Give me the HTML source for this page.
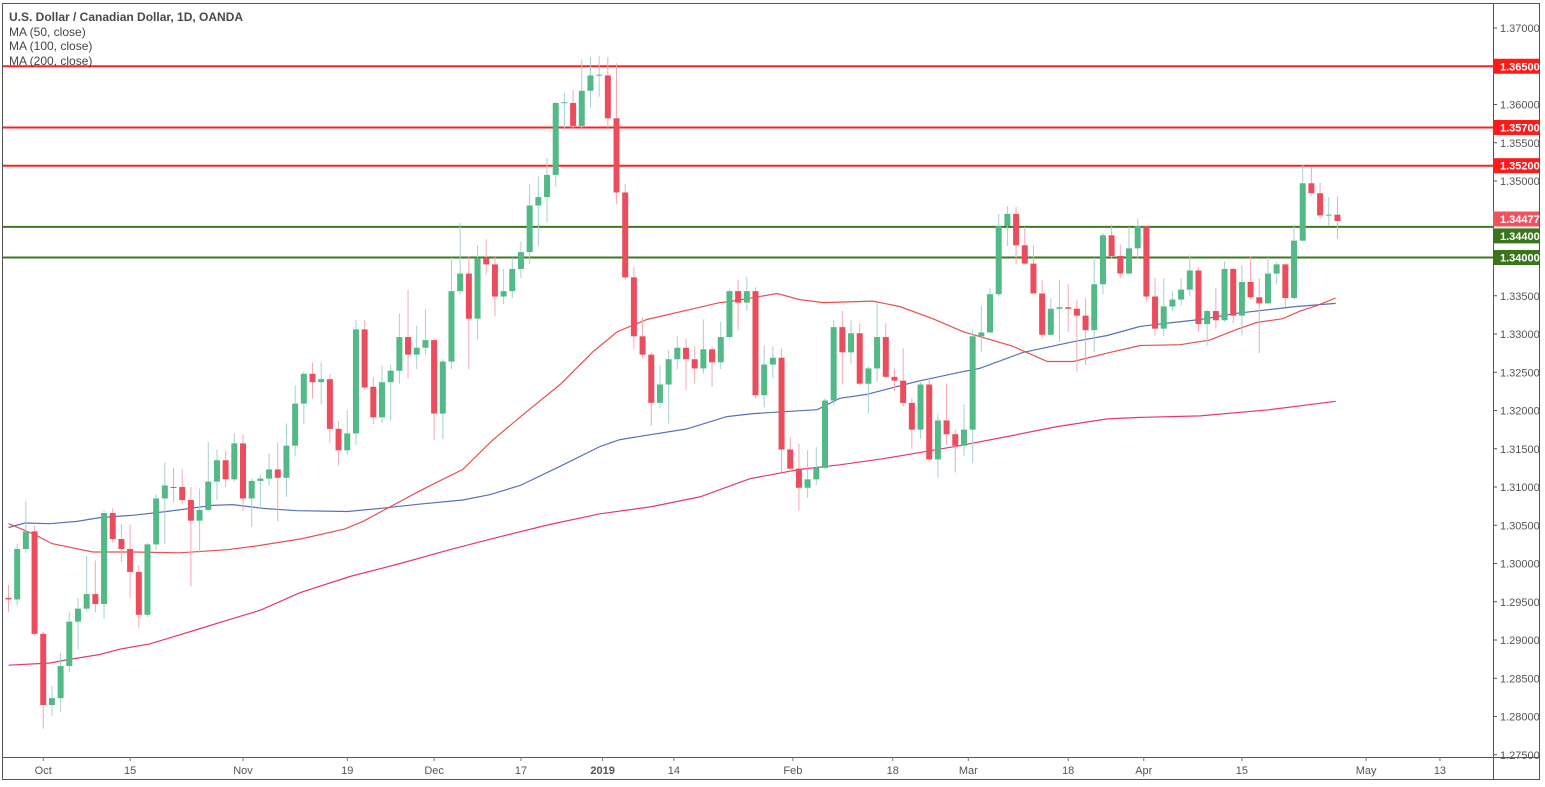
<!DOCTYPE html>
<html><head><meta charset="utf-8"><style>
html,body{margin:0;padding:0;background:#fff;}
svg{display:block;font-family:"Liberation Sans",sans-serif;}
</style></head><body>
<svg id="chart" width="1545" height="787" viewBox="0 0 1545 787" xmlns="http://www.w3.org/2000/svg">
<rect x="2.5" y="3.5" width="1537" height="776" fill="#fff" stroke="#555" stroke-width="1"/>
<g id="plot"></g>
<line x1="1493.5" y1="3" x2="1493.5" y2="779" stroke="#555"/>
<line x1="2" y1="757.5" x2="1540" y2="757.5" stroke="#555"/>
<g id="yaxis"></g>
<g id="xaxis"></g>
<g font-size="12" fill="#444">
<text x="9" y="21" font-weight="bold" fill="#4a4a4a">U.S. Dollar / Canadian Dollar, 1D, OANDA</text>
<text x="9" y="36">MA (50, close)</text>
<text x="9" y="50">MA (100, close)</text>
<text x="9" y="65">MA (200, close)</text>
</g>
</svg>
<script>
const opens=[1.2955,1.2953,1.3019,1.3042,1.2908,1.2815,1.2824,1.2866,1.2924,1.2941,1.2960,1.2947,1.3066,1.3032,1.3019,1.2989,1.2933,1.3025,1.3085,1.3100,1.3100,1.3083,1.3056,1.3070,1.3107,1.3135,1.3110,1.3157,1.3085,1.3108,1.3111,1.3123,1.3112,1.3154,1.3209,1.3248,1.3237,1.3241,1.3176,1.3148,1.3170,1.3306,1.3231,1.3191,1.3237,1.3252,1.3296,1.3273,1.3282,1.3292,1.3196,1.3264,1.3356,1.3379,1.3320,1.3399,1.3391,1.3349,1.3356,1.3385,1.3407,1.3468,1.3479,1.3508,1.3602,1.3602,1.3572,1.3618,1.3638,1.3638,1.3582,1.3485,1.3374,1.3297,1.3273,1.3210,1.3234,1.3267,1.3282,1.3267,1.3255,1.3280,1.3263,1.3296,1.3356,1.3341,1.3356,1.3220,1.3260,1.3269,1.3149,1.3124,1.3099,1.3110,1.3125,1.3213,1.3309,1.3276,1.3301,1.3235,1.3255,1.3296,1.3244,1.3239,1.3210,1.3175,1.3234,1.3136,1.3187,1.3169,1.3154,1.3175,1.3297,1.3302,1.3352,1.3441,1.3457,1.3416,1.3392,1.3353,1.3299,1.3333,1.3335,1.3333,1.3324,1.3305,1.3365,1.3429,1.3402,1.3379,1.3412,1.3441,1.3349,1.3307,1.3336,1.3345,1.3358,1.3383,1.3313,1.3330,1.3318,1.3385,1.3324,1.3368,1.3348,1.3340,1.3379,1.3391,1.3347,1.3422,1.3497,1.3484,1.3455,1.3456];
const highs=[1.2972,1.3026,1.3082,1.3049,1.2911,1.2840,1.2883,1.2937,1.2955,1.3010,1.3004,1.3069,1.3072,1.3052,1.3051,1.2998,1.3027,1.3090,1.3132,1.3125,1.3123,1.3100,1.3098,1.3159,1.3149,1.3148,1.3170,1.3169,1.3111,1.3116,1.3144,1.3158,1.3183,1.3233,1.3251,1.3263,1.3263,1.3248,1.3186,1.3201,1.3318,1.3318,1.3244,1.3259,1.3260,1.3327,1.3358,1.3311,1.3332,1.3294,1.3267,1.3400,1.3445,1.3402,1.3416,1.3424,1.3402,1.3385,1.3400,1.3421,1.3496,1.3506,1.3530,1.3604,1.3615,1.3619,1.3659,1.3662,1.3663,1.3662,1.3654,1.3496,1.3388,1.3322,1.3276,1.3259,1.3279,1.3297,1.3294,1.3284,1.3319,1.3284,1.3316,1.3358,1.3371,1.3375,1.3361,1.3285,1.3284,1.3281,1.3165,1.3157,1.3148,1.3152,1.3216,1.3318,1.3330,1.3318,1.3314,1.3258,1.3340,1.3314,1.3255,1.3281,1.3216,1.3237,1.3242,1.3196,1.3235,1.3175,1.3208,1.3306,1.3337,1.3360,1.3457,1.3467,1.3466,1.3440,1.3416,1.3371,1.3347,1.3371,1.3365,1.3345,1.3347,1.3400,1.3432,1.3443,1.3417,1.3440,1.3451,1.3442,1.3373,1.3373,1.3356,1.3373,1.3403,1.3387,1.3332,1.3360,1.3395,1.3387,1.3390,1.3402,1.3373,1.3400,1.3394,1.3392,1.3443,1.3521,1.3518,1.3498,1.3479,1.3480];
const lows=[1.2937,1.2945,1.3014,1.2905,1.2784,1.2801,1.2806,1.2858,1.2888,1.2937,1.2936,1.2928,1.3027,1.3002,1.2955,1.2916,1.2930,1.3018,1.3026,1.3080,1.3077,1.2970,1.3014,1.3068,1.3083,1.3100,1.3107,1.3069,1.3048,1.3072,1.3102,1.3055,1.3087,1.3140,1.3182,1.3216,1.3208,1.3157,1.3128,1.3142,1.3155,1.3227,1.3182,1.3184,1.3187,1.3235,1.3242,1.3254,1.3273,1.3161,1.3163,1.3254,1.3352,1.3254,1.3293,1.3378,1.3323,1.3339,1.3347,1.3373,1.3391,1.3415,1.3446,1.3492,1.3566,1.3568,1.3568,1.3595,1.3610,1.3570,1.3470,1.3371,1.3280,1.3268,1.3180,1.3203,1.3183,1.3254,1.3227,1.3235,1.3248,1.3231,1.3254,1.3293,1.3305,1.3330,1.3216,1.3204,1.3242,1.3119,1.3120,1.3069,1.3086,1.3103,1.3123,1.3207,1.3234,1.3261,1.3233,1.3196,1.3238,1.3242,1.3225,1.3205,1.3150,1.3163,1.3133,1.3112,1.3155,1.3119,1.3140,1.3131,1.3276,1.3301,1.3349,1.3415,1.3391,1.3391,1.3352,1.3294,1.3297,1.3290,1.3303,1.3251,1.3259,1.3276,1.3352,1.3399,1.3373,1.3378,1.3398,1.3343,1.3298,1.3297,1.3330,1.3337,1.3350,1.3303,1.3285,1.3307,1.3316,1.3314,1.3298,1.3345,1.3275,1.3339,1.3366,1.3335,1.3345,1.3421,1.3481,1.3451,1.3441,1.3425];
const closes=[1.2953,1.3019,1.3042,1.2908,1.2815,1.2824,1.2866,1.2924,1.2941,1.2960,1.2947,1.3066,1.3032,1.3019,1.2989,1.2933,1.3025,1.3085,1.3102,1.3099,1.3083,1.3056,1.3070,1.3107,1.3135,1.3110,1.3157,1.3085,1.3108,1.3111,1.3123,1.3112,1.3154,1.3209,1.3248,1.3237,1.3241,1.3176,1.3148,1.3170,1.3306,1.3230,1.3191,1.3237,1.3252,1.3296,1.3273,1.3282,1.3292,1.3196,1.3264,1.3356,1.3379,1.3320,1.3399,1.3391,1.3349,1.3356,1.3385,1.3407,1.3468,1.3479,1.3508,1.3602,1.3603,1.3572,1.3618,1.3638,1.3639,1.3582,1.3485,1.3374,1.3297,1.3273,1.3210,1.3234,1.3267,1.3282,1.3267,1.3255,1.3280,1.3263,1.3296,1.3356,1.3341,1.3356,1.3220,1.3260,1.3269,1.3149,1.3124,1.3099,1.3110,1.3125,1.3213,1.3309,1.3276,1.3301,1.3235,1.3255,1.3296,1.3244,1.3239,1.3210,1.3175,1.3234,1.3136,1.3187,1.3169,1.3154,1.3175,1.3297,1.3302,1.3352,1.3441,1.3457,1.3416,1.3392,1.3353,1.3299,1.3333,1.3335,1.3333,1.3324,1.3305,1.3365,1.3429,1.3402,1.3379,1.3412,1.3441,1.3349,1.3307,1.3336,1.3345,1.3358,1.3383,1.3313,1.3330,1.3318,1.3385,1.3324,1.3368,1.3348,1.3340,1.3379,1.3391,1.3347,1.3422,1.3497,1.3484,1.3455,1.3456,1.34477];

const ma50Idx=[0,2.8,5,9.7,14.3,19.7,25.2,28.6,33.6,38.7,40.8,47.7,52.3,55.8,59.7,63.5,67.3,70.1,73.5,78.8,81.9,83.4,88.5,91.1,93.8,99.5,102.6,106.4,109.9,115.6,119.6,122.6,126.5,130.3,134.9,138.3,141.4,143.7,146.7,148.7,150.6,152.8];
const ma50Val=[1.3052,1.3039,1.3026,1.3015,1.3015,1.3014,1.3018,1.3023,1.3032,1.3045,1.3055,1.3097,1.3123,1.3162,1.3199,1.3234,1.3277,1.3303,1.3319,1.3333,1.3341,1.3343,1.3353,1.3345,1.3341,1.3343,1.3336,1.3320,1.3303,1.3284,1.3264,1.3264,1.3275,1.3285,1.3286,1.3292,1.3306,1.3315,1.3320,1.3330,1.3337,1.3347];
const ma100Idx=[0,1.9,4.8,7.9,10.5,14.3,18.2,23.5,25.8,29.3,33.2,39,42.8,47.7,52.3,55.4,58.9,63.5,68.1,70.4,78.1,82.7,85.7,93.1,95.7,98.8,104.6,109.5,111.8,116.8,122.6,126.5,130.3,134.1,137.2,141.4,148.3,152.8];
const ma100Val=[1.3047,1.3053,1.3052,1.3055,1.3060,1.3063,1.3068,1.3076,1.3077,1.3072,1.3069,1.3068,1.3072,1.3078,1.3083,1.3090,1.3102,1.3127,1.3153,1.3162,1.3176,1.3192,1.3196,1.3201,1.3216,1.3221,1.3238,1.3250,1.3255,1.3276,1.3290,1.3298,1.3310,1.3315,1.3319,1.3327,1.3336,1.3340];
const ma200Idx=[0,4.8,6.7,10.5,12.8,16.3,22.1,25.8,29,33.6,39.3,45.1,50.8,56.6,62.3,68.1,73.9,79.6,85.4,91.1,95.7,100.7,106.4,109.5,115,120.7,126.5,130.3,137.2,145.2,152.8];
const ma200Val=[1.2867,1.2870,1.2874,1.2881,1.2888,1.2895,1.2915,1.2928,1.2939,1.2962,1.2983,1.3000,1.3018,1.3035,1.3051,1.3065,1.3074,1.3087,1.3111,1.3123,1.3129,1.3137,1.3148,1.3154,1.3166,1.3179,1.3189,1.3191,1.3193,1.3201,1.3212];

const priceTicks=[1.370,1.365,1.360,1.355,1.350,1.345,1.340,1.335,1.330,1.325,1.320,1.315,1.310,1.305,1.300,1.295,1.290,1.285,1.280,1.275];
const timeLabels=["Oct","15","Nov","19","Dec","17","2019","14","Feb","18","Mar","18","Apr","15","May","13"];
const timeLabelIdx=[4,14,27,39,49,59,68.4,76.6,90.3,101.8,110.5,122,130.7,142,156.3,164.8];
const resLevels=[1.3650,1.3570,1.3520];
const supLevels=[1.3440,1.3400];

const NS="http://www.w3.org/2000/svg";
const X0=8.5, DX=8.686;
function xs(i){return X0+i*DX;}
function ys(p){return 28+(1.370-p)*7650;}
function mk(tag,attrs,parent){const e=document.createElementNS(NS,tag);for(const k in attrs)e.setAttribute(k,attrs[k]);parent.appendChild(e);return e;}
const plot=document.getElementById('plot');
const yaxis=document.getElementById('yaxis');
const xaxis=document.getElementById('xaxis');

resLevels.forEach(v=>{
  const y=ys(v);
  const l=mk('line',{x1:3,x2:1493,y1:y,y2:y,stroke:'#ff2020','stroke-width':2},plot);
  
  
});
supLevels.forEach(v=>{
  const y=ys(v);
  const l=mk('line',{x1:3,x2:1493,y1:y,y2:y,stroke:'#3d7a1f','stroke-width':2},plot);
  
  
});

function maLine(idx,val,color,name){
  const pts=idx.map((d,k)=>xs(d).toFixed(1)+','+ys(val[k]).toFixed(1)).join(' ');
  const p=mk('polyline',{points:pts,fill:'none',stroke:color,'stroke-width':1.2},plot);
  
  
}
maLine(ma200Idx,ma200Val,'#e8386a','ma200-line');
maLine(ma100Idx,ma100Val,'#5472b8','ma100-line');
maLine(ma50Idx,ma50Val,'#e8504f','ma50-line');

for(let i=0;i<opens.length;i++){
  const o=opens[i],h=highs[i],l=lows[i],c=closes[i];
  const up=c>=o;
  const x=xs(i);
  const g=mk('g',{},plot);
  
  
  const w=mk('line',{x1:x,x2:x,y1:ys(h),y2:ys(l),stroke:up?'#a8cfd2':'#f6a8b3','stroke-width':1},g);
  
  
  const top=ys(Math.max(o,c)),bot=ys(Math.min(o,c));
  const b=mk('rect',{x:x-3,y:top,width:6,height:Math.max(1,bot-top),fill:up?'#53b987':'#eb4d5c'},g);
  
  
}

priceTicks.forEach(v=>{
  const y=ys(v);
  const t=mk('line',{x1:1493,x2:1497,y1:y,y2:y,stroke:'#555'},yaxis);
  
  
  const tx=mk('text',{x:1500,y:y+4,'font-size':11,fill:'#555'},yaxis);
  tx.textContent=v.toFixed(5);
  
  
});
function tag(v,color,dy,name){
  const y=ys(v)+dy;
  const r=mk('rect',{x:1493,y:y-7.5,width:46,height:15,fill:color},yaxis);
  
  
  const t=mk('text',{x:1500,y:y+4,'font-size':11,fill:'#fff','font-weight':'bold'},yaxis);
  t.textContent=v.toFixed(5);
  
  
}
resLevels.forEach(v=>tag(v,'#ff1a1a',0,'resistance-price-tag'));
tag(closes[closes.length-1],'#f0525f',-2,'last-price-tag');
supLevels.forEach((v,k)=>tag(v,'#3a741c',k===0?9:0,'support-price-tag'));

timeLabels.forEach((s,k)=>{
  const x=xs(timeLabelIdx[k]);
  const t=mk('line',{x1:x,x2:x,y1:757,y2:761,stroke:'#777'},xaxis);
  
  
  const tx=mk('text',{x:x,y:774,'font-size':11,fill:'#555','text-anchor':'middle','font-weight':s==='2019'?'bold':'normal'},xaxis);
  tx.textContent=s;
  
  
});
</script>
</body></html>
